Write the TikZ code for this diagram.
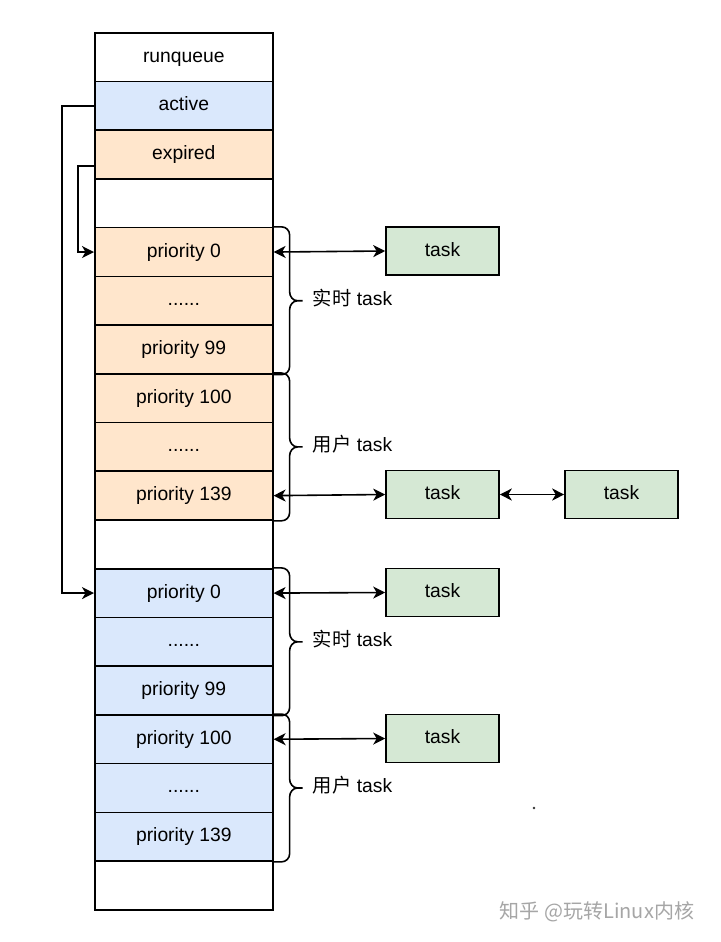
\documentclass[tikz,border=0pt]{standalone}
\usepackage{fontspec}
\setmainfont{Liberation Sans}
\newfontfamily\cjk{Noto Sans CJK SC}
\usetikzlibrary{arrows.meta,calc}
\definecolor{cblue}{HTML}{DAE8FC}
\definecolor{corange}{HTML}{FFE6CC}
\definecolor{cgreen}{HTML}{D5E8D4}
\newcommand\fsz{\fontsize{19.3}{23}\selectfont}
\tikzset{
  cell/.style={draw, line width=1.6pt, minimum width=178pt, minimum height=48.72pt,
    anchor=north west, inner sep=0pt, font=\fsz, text height=13pt, text depth=3pt},
  taskbox/.style={draw, line width=1.6pt, fill=cgreen, minimum width=113pt,
    minimum height=48pt, inner sep=0pt, font=\fsz, text height=13pt, text depth=3pt},
  lbl/.style={font=\fsz, inner sep=0pt},
  conn/.style={line width=1.6pt, -{Stealth[length=12pt,width=12pt,inset=3.5pt]}},
  bidir/.style={line width=1.6pt, {Stealth[length=12pt,width=12pt,inset=3.5pt]}-{Stealth[length=12pt,width=12pt,inset=3.5pt]}},
  bracestyle/.style={line width=1.6pt},
}
\newcommand\rowbrace[2]{%
  \draw[bracestyle] let \p1=(#1.north east), \p2=(#2.south east),
     \p3=($(\p1)!0.5!(\p2)$) in
    (\p1) -- (\x1+8pt,\y1) to[out=0,in=90] (\x1+16pt,\y1-8pt)
    -- (\x1+16pt,\y3+9pt) to[out=-90,in=180] (\x1+24pt,\y3) -- (\x1+29pt,\y3)
    (\x1+24pt,\y3) to[out=180,in=90] (\x1+16pt,\y3-9pt)
    -- (\x1+16pt,\y2+8pt) to[out=-90,in=0] (\x1+8pt,\y2) -- (\p2);}
\begin{document}
\begin{tikzpicture}[x=1pt,y=-1pt]
\fill[white] (0,0) rectangle (720,942);
\useasboundingbox (0,0) rectangle (720,942);
\foreach \i/\c/\t in {0/white/runqueue, 1/cblue/active, 2/corange/expired, 3/white/{},
  4/corange/priority 0, 5/corange/{......}, 6/corange/priority 99,
  7/corange/priority 100, 8/corange/{......}, 9/corange/priority 139, 10/white/{},
  11/cblue/priority 0, 12/cblue/{......}, 13/cblue/priority 99,
  14/cblue/priority 100, 15/cblue/{......}, 16/cblue/priority 139, 17/white/{}}
  \node[cell, fill=\c] (r\i) at (94, 32+\i*48.72) {\t};

\node[taskbox] (t1) at (442.5, 251) {task};
\node[taskbox] (t2) at (442.5, 494.5) {task};
\node[taskbox] (t3) at (621.5, 494.5) {task};
\node[taskbox] (t4) at (442.5, 592.5) {task};
\node[taskbox] (t5) at (442.5, 738.5) {task};

\rowbrace{r4}{r6}
\rowbrace{r7}{r9}
\rowbrace{r11}{r13}
\rowbrace{r14}{r16}

\node[lbl] (l1) at (352.5, 298) {{\cjk 实时} task};
\node[lbl] (l2) at (352.5, 444) {{\cjk 用户} task};
\node[lbl] (l3) at (352.5, 639) {{\cjk 实时} task};
\node[lbl] (l4) at (352.5, 785) {{\cjk 用户} task};

\draw[bidir] (r4.east) -- (t1.west);
\draw[bidir] (r9.east) -- (t2.west);
\draw[bidir] (t2.east) -- (t3.west);
\draw[bidir] (r11.east) -- (t4.west);
\draw[bidir] (r14.east) -- (t5.west);

\draw[conn] (r1.west) -- ++(-32,0) |- (r11.west);
\draw[conn] ([yshift=-11.5pt]r2.west) -- ++(-16,0) |- (r4.west);

\fill[black!80] (534,808) circle (1.3pt);
\node[text=black!35, font=\cjk\fontsize{20}{24}\selectfont, inner sep=0pt] (wm) at (597,912) {知乎 @玩转Linux内核};
\end{tikzpicture}
\end{document}
